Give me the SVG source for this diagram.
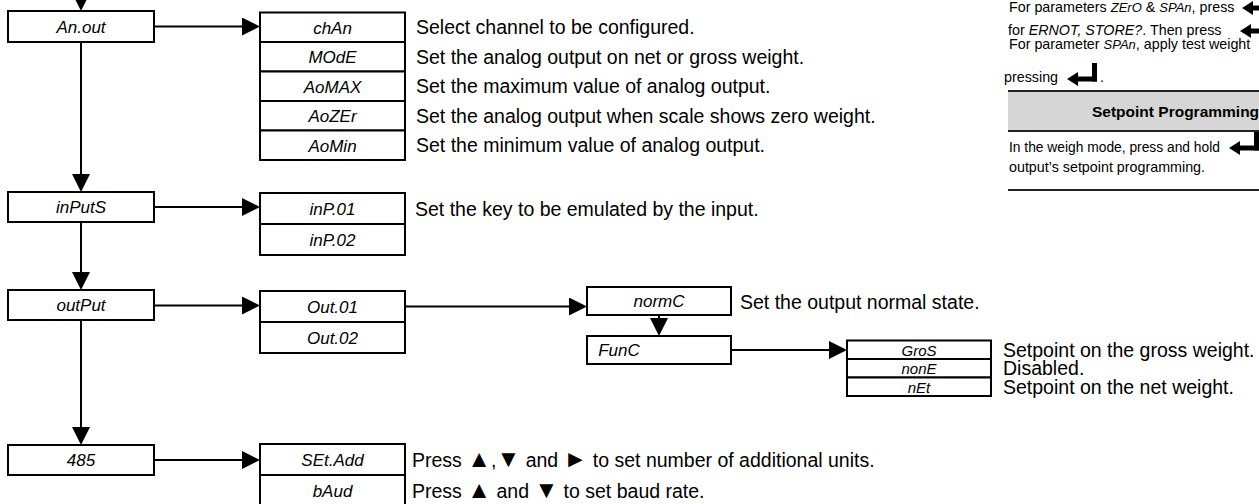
<svg xmlns="http://www.w3.org/2000/svg" width="1259" height="504" viewBox="0 0 1259 504">
<style>
.box{fill:#fff;stroke:#000;stroke-width:2}
.seg{font-family:"Liberation Sans",Arial,sans-serif;font-style:italic;font-size:17px;text-anchor:middle;fill:#000}
.desc{font-family:"Liberation Sans",Arial,sans-serif;font-size:19.5px;fill:#000}
.tri{font-size:24px}
.pan{font-family:"Liberation Sans",Arial,sans-serif;font-size:14.3px;fill:#000}
.segs{font-style:italic;font-size:13px}
.it{font-style:italic}
.title{font-family:"Liberation Sans",Arial,sans-serif;font-size:15.5px;font-weight:bold;fill:#000}
.con{stroke:#000;stroke-width:2;fill:none;marker-end:url(#ah)}
.rule{stroke:#222;stroke-width:2}
</style>
<defs>
<marker id="ah" viewBox="0 0 18 18" refX="15" refY="9" markerWidth="18" markerHeight="18" markerUnits="userSpaceOnUse" orient="auto">
<path d="M0,0 L18,9 L0,18 z" fill="#000"/>
</marker>
<g id="enter">
<path d="M0,0 L11,-7 L11,7 z" fill="#000"/>
<rect x="10" y="-2.5" width="20" height="5" fill="#000"/>
<rect x="25" y="-16" width="5" height="18.5" fill="#000"/>
</g>
</defs>
<rect width="1259" height="504" fill="#fff"/>

<g id="connectors">
<line class="con" x1="81" y1="0" x2="81" y2="8"/>
<line class="con" x1="81" y1="42" x2="81" y2="189"/>
<line class="con" x1="81" y1="222" x2="81" y2="287"/>
<line class="con" x1="81" y1="320" x2="81" y2="442"/>
<line class="con" x1="154" y1="26.5" x2="257" y2="26.5"/>
<line class="con" x1="154" y1="207" x2="257" y2="207"/>
<line class="con" x1="154" y1="305.5" x2="257" y2="305.5"/>
<line class="con" x1="154" y1="460" x2="257" y2="460"/>
<line class="con" x1="405" y1="306.5" x2="584" y2="306.5"/>
<line class="con" x1="659" y1="315" x2="659" y2="333"/>
<line class="con" x1="731" y1="350" x2="844" y2="350"/>
</g>

<g id="n-anout">
<rect class="box" x="8" y="11" width="146" height="31"/>
<text class="seg" x="81" y="33">An.out</text>
</g>
<g id="n-inputs">
<rect class="box" x="8" y="192" width="146" height="30"/>
<text class="seg" x="81" y="213">inPutS</text>
</g>
<g id="n-output">
<rect class="box" x="8" y="290" width="146" height="30"/>
<text class="seg" x="81" y="311">outPut</text>
</g>
<g id="n-485">
<rect class="box" x="8" y="445" width="146" height="30"/>
<text class="seg" x="81" y="466">485</text>
</g>

<g id="n-anout-params">
<rect class="box" x="260" y="12.5" width="145" height="29.5"/>
<rect class="box" x="260" y="42" width="145" height="29.5"/>
<rect class="box" x="260" y="71.5" width="145" height="29.5"/>
<rect class="box" x="260" y="101" width="145" height="29.5"/>
<rect class="box" x="260" y="130.5" width="145" height="29.5"/>
<text class="seg" x="332.5" y="33.5">chAn</text>
<text class="seg" x="332.5" y="63">MOdE</text>
<text class="seg" x="332.5" y="92.5">AoMAX</text>
<text class="seg" x="332.5" y="122">AoZEr</text>
<text class="seg" x="332.5" y="151.5">AoMin</text>
<text class="desc" x="416" y="34">Select channel to be configured.</text>
<text class="desc" x="416" y="63.5">Set the analog output on net or gross weight.</text>
<text class="desc" x="416" y="93">Set the maximum value of analog output.</text>
<text class="desc" x="416" y="122.5">Set the analog output when scale shows zero weight.</text>
<text class="desc" x="416" y="152">Set the minimum value of analog output.</text>
</g>

<g id="n-inp">
<rect class="box" x="260" y="193" width="145" height="31"/>
<rect class="box" x="260" y="224" width="145" height="31"/>
<text class="seg" x="332.5" y="214.5">inP.01</text>
<text class="seg" x="332.5" y="245.5">inP.02</text>
<text class="desc" x="415" y="215.5">Set the key to be emulated by the input.</text>
</g>

<g id="n-out">
<rect class="box" x="260" y="291" width="145" height="31"/>
<rect class="box" x="260" y="322" width="145" height="31"/>
<text class="seg" x="332.5" y="312.5">Out.01</text>
<text class="seg" x="332.5" y="343.5">Out.02</text>
</g>

<g id="n-normc">
<rect class="box" x="587" y="287" width="144" height="28"/>
<text class="seg" x="659" y="307">normC</text>
<text class="desc" x="740" y="308.5">Set the output normal state.</text>
</g>

<g id="n-func">
<rect class="box" x="587" y="336" width="144" height="28"/>
<text class="seg" x="619" y="356">FunC</text>
</g>

<g id="n-func-opts">
<rect class="box" x="847" y="340.5" width="144" height="18.5"/>
<rect class="box" x="847" y="359" width="144" height="18.5"/>
<rect class="box" x="847" y="377.5" width="144" height="18.5"/>
<text class="seg" x="919" y="355.5" style="font-size:15px">GroS</text>
<text class="seg" x="919" y="374" style="font-size:15px">nonE</text>
<text class="seg" x="919" y="392.5" style="font-size:15px">nEt</text>
<text class="desc" x="1003" y="356.5">Setpoint on the gross weight.</text>
<text class="desc" x="1003" y="375">Disabled.</text>
<text class="desc" x="1003" y="393.5">Setpoint on the net weight.</text>
</g>

<g id="n-485-params">
<rect class="box" x="260" y="444" width="145" height="31"/>
<rect class="box" x="260" y="475" width="145" height="31"/>
<text class="seg" x="332.5" y="465.5">SEt.Add</text>
<text class="seg" x="332.5" y="496.5">bAud</text>
<text class="desc" x="412" y="467">Press <tspan class="tri">▲</tspan>,<tspan class="tri">▼</tspan> and <tspan class="tri">►</tspan> to set number of additional units.</text>
<text class="desc" x="412" y="497.5">Press <tspan class="tri">▲</tspan> and <tspan class="tri">▼</tspan> to set baud rate.</text>
</g>

<g id="panel">
<text class="pan" x="1009" y="12">For parameters <tspan class="segs">ZErO</tspan> &amp; <tspan class="segs">SPAn</tspan>, press</text>
<use href="#enter" x="1242" y="8"/>
<text class="pan" x="1008" y="35">for <tspan class="it">ERNOT, STORE?</tspan>. Then press</text>
<use href="#enter" x="1240" y="31"/>
<text class="pan" x="1009" y="49">For parameter <tspan class="segs">SPAn</tspan>, apply test weight</text>
<text class="pan" x="1004" y="82">pressing</text>
<use href="#enter" x="1067" y="79"/>
<text class="pan" x="1100" y="82">.</text>
<rect x="1008" y="91" width="260" height="40" fill="#d6d6d6"/>
<line class="rule" x1="1008" y1="91" x2="1259" y2="91"/>
<line class="rule" x1="1008" y1="131" x2="1259" y2="131"/>
<text class="title" x="1092" y="117">Setpoint Programming</text>
<text class="pan" x="1009" y="152" style="font-size:13.8px">In the weigh mode, press and hold</text>
<use href="#enter" x="1229" y="148"/>
<text class="pan" x="1009" y="172">output’s setpoint programming.</text>
<line class="rule" x1="1008" y1="190" x2="1259" y2="190"/>
</g>
</svg>
